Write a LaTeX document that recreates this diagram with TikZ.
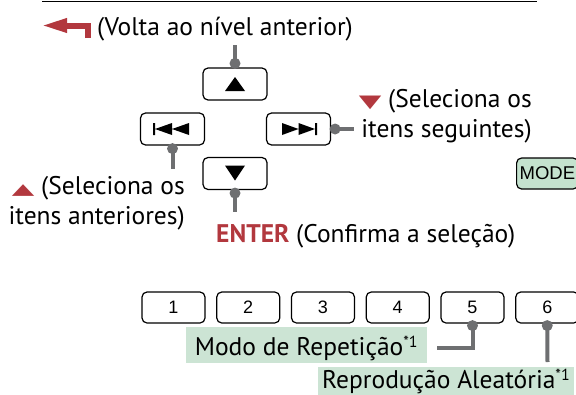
\documentclass[tikz,border=0pt]{standalone}
\usepackage{graphicx}
\usepackage{fontspec}
\setmainfont{PT Sans}
\newfontfamily\keyfont{Liberation Sans}
\newfontfamily\symfont{DejaVu Sans}
\usetikzlibrary{arrows.meta}
\definecolor{keyred}{RGB}{178,56,62}
\definecolor{wiregray}{RGB}{110,111,113}
\definecolor{notegreen}{RGB}{204,228,212}
\definecolor{modegreen}{RGB}{196,226,206}
\newcommand{\redtri}[2]{{\color{keyred}\symfont\scalebox{1.15}[#1]{#2}}}
\newcommand{\fnmark}{\raisebox{7.5pt}{\fontsize{16}{16}\selectfont *1}}
\begin{document}
\begin{tikzpicture}[x=1pt, y=-1pt,
  txt/.style={font=\fontsize{25.5}{30}\selectfont, inner sep=0pt},
  key/.style={draw, line width=1.2pt, rounded corners=5pt, minimum width=64pt, minimum height=32pt, inner sep=0pt},
  numkey/.style={key, minimum width=63pt, minimum height=31pt, font=\keyfont\fontsize{18}{18}\selectfont},
  note/.style={fill=notegreen, inner xsep=4pt, inner ysep=0pt, font=\fontsize{25.5}{30}\selectfont},
  wire/.style={draw=wiregray, line width=4pt},
  dot/.style={fill=wiregray}]
\useasboundingbox (0,0) rectangle (576,394);
\draw[line width=1.5pt] (42,1.5) -- (537,1.5);
\draw[keyred, line width=6pt, -{Triangle[length=26pt, width=13pt]}] (88,38) |- (41,25.5);
\node[txt, anchor=base west] (volta) at (97,35) {(Volta ao nível anterior)};
\node[key] (up) at (235,84) {};
\node[key] (prev) at (172.5,129) {};
\node[key] (next) at (298.5,129) {};
\node[key] (down) at (235,173.5) {};
\node[key, fill=modegreen, minimum width=0pt, minimum height=31pt, inner xsep=3pt, anchor=west, font=\keyfont\fontsize{18.5}{18.5}\selectfont] (mode) at (516,173.5) {MODE};
\fill[shift={(up)}] (-10,7) -- (10,7) -- (0,-7) -- cycle;
\fill[shift={(down)}] (-10,-8) -- (10,-8) -- (0,7) -- cycle;
\fill[shift={(prev)}] (-19.5,-6) rectangle (-17.5,6) (-17.5,0) -- (-0.5,-6) -- (-0.5,6) -- cycle (-0.5,0) -- (16.5,-6) -- (16.5,6) -- cycle;
\fill[shift={(next)}] (-16.5,-6) -- (0,0) -- (-16.5,6) -- cycle (0,-6) -- (16.5,0) -- (0,6) -- cycle (16.5,-6) rectangle (18.5,6);
\coordinate (upc) at (235,45);
\coordinate (prevc) at (172.5,169);
\coordinate (nextc) at (354,129);
\coordinate (downc) at (235,212);
\draw[wire] (upc) -- (up.north);
\draw[wire] (prev.south) -- (prevc);
\draw[wire] (next.east) -- (nextc);
\draw[wire] (down.south) -- (downc);
\fill[dot] ([yshift=4pt]up.north) circle (5.5pt);
\fill[dot] ([yshift=-3pt]prev.south) circle (5.5pt);
\fill[dot] ([xshift=4pt]next.east) circle (5.5pt);
\fill[dot] ([yshift=-3pt]down.south) circle (5.5pt);
\node[txt, anchor=base east, align=right] (seg) at (532,137) {\redtri{0.7}{▼} (Seleciona os\\itens seguintes)};
\node[txt, anchor=base east, align=right] (ant) at (185,224) {\redtri{0.6}{▲} (Seleciona os\\itens anteriores)};
\node[txt, anchor=base west] (enter) at (216,242) {{\bfseries\color{keyred}ENTER} (Confirma a seleção)};
\foreach \n in {1,...,6}
  \node[numkey] (k\n) at ({173.5+74.75*(\n-1)},307.5) {\n};
\coordinate (modoc) at (437,348);
\coordinate (reproc) at (547.5,362);
\draw[wire] (k5.south) |- (modoc);
\draw[wire] (k6.south) -- (reproc);
\fill[dot] ([yshift=-2pt]k5.south) circle (5.5pt);
\fill[dot] ([yshift=-2pt]k6.south) circle (5.5pt);
\node[note, minimum width=241pt, text height=28pt, text depth=8pt, anchor=base east] (modo) at (427,355) {Modo de Repetição\fnmark};
\node[note, text height=21pt, text depth=12pt, anchor=base west] (repro) at (318,388) {Reprodução Aleatória\fnmark};
\end{tikzpicture}
\end{document}
